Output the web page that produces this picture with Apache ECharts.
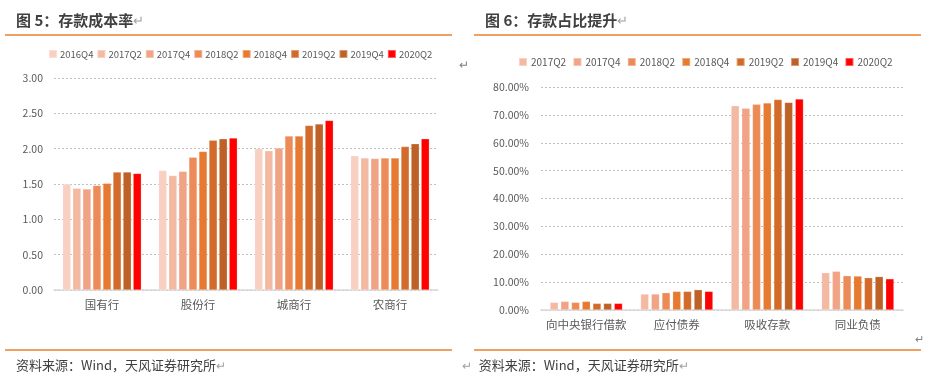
<!DOCTYPE html>
<html><head><meta charset="utf-8">
<script src="https://cdn.jsdelivr.net/npm/echarts@6/dist/echarts.min.js"></script>
<style>html,body{margin:0;padding:0;background:#fff;}#c{width:951px;height:387px;}</style>
</head><body><div id="c"></div>
<script>
// Left chart: 存款成本率
const leftCategories = ['国有行', '股份行', '城商行', '农商行'];
const leftSeriesNames = ['2016Q4', '2017Q2', '2017Q4', '2018Q2', '2018Q4', '2019Q2', '2019Q4', '2020Q2'];
const leftValues = [
  [1.50, 1.69, 2.00, 1.90],
  [1.44, 1.62, 1.97, 1.87],
  [1.43, 1.68, 2.01, 1.86],
  [1.48, 1.88, 2.18, 1.87],
  [1.51, 1.96, 2.18, 1.87],
  [1.67, 2.12, 2.33, 2.03],
  [1.67, 2.14, 2.35, 2.07],
  [1.65, 2.15, 2.40, 2.14]
];
const leftTicks = [0, 0.5, 1, 1.5, 2, 2.5, 3];

// Right chart: 存款占比提升 (%)
const rightCategories = ['向中央银行借款', '应付债券', '吸收存款', '同业负债'];
const rightSeriesNames = ['2017Q2', '2017Q4', '2018Q2', '2018Q4', '2019Q2', '2019Q4', '2020Q2'];
const rightValues = [
  [2.75, 5.74, 73.3, 13.4],
  [3.11, 5.74, 72.4, 13.9],
  [2.75, 6.22, 73.8, 12.3],
  [3.11, 6.70, 74.3, 12.2],
  [2.39, 6.70, 75.5, 11.6],
  [2.39, 7.30, 74.5, 12.0],
  [2.39, 6.70, 75.7, 11.2]
];
const rightTicks = [0, 10, 20, 30, 40, 50, 60, 70, 80];

const palette = {
  '2016Q4': '#F7D0C2', '2017Q2': '#F4B9A2', '2017Q4': '#F0A385', '2018Q2': '#EC8B57',
  '2018Q4': '#E57A30', '2019Q2': '#D26B2A', '2019Q4': '#BD6127', '2020Q2': '#FF0000'
};

const FONT = '"Noto Sans CJK SC", "Noto Sans", sans-serif';
const TXT = '#595959';
const chart = echarts.init(document.getElementById('c'), null, {renderer: 'canvas'});

const series = [];
leftSeriesNames.forEach((n, i) => {
  series.push({
    name: n, type: 'bar', xAxisIndex: 0, yAxisIndex: 0, data: leftValues[i],
    barGap: '22%', barCategoryGap: '18%',
    itemStyle: {color: palette[n], borderColor: 'rgba(255,255,255,0.35)', borderWidth: 0.6},
    emphasis: {disabled: true}
  });
});
rightSeriesNames.forEach((n, i) => {
  series.push({
    name: n + ' ', type: 'bar', xAxisIndex: 1, yAxisIndex: 1, data: rightValues[i],
    barGap: '30%', barCategoryGap: '20%',
    itemStyle: {color: palette[n], borderColor: 'rgba(255,255,255,0.35)', borderWidth: 0.6},
    emphasis: {disabled: true}
  });
});

const axisCommon = {
  axisTick: {show: false},
  axisLine: {show: true, lineStyle: {color: '#D9D9D9', width: 1.5}},
};

const option = {
  animation: false,
  textStyle: {fontFamily: FONT},
  legend: [
    {
      data: leftSeriesNames, left: 43, top: 44, width: 420, itemWidth: 8, itemHeight: 8, itemGap: 3,
      icon: 'rect', textStyle: {color: TXT, fontSize: 9.5, fontFamily: FONT, padding: [0, 0, 0, -2]}
    },
    {
      data: rightSeriesNames.map(n => n + ' '), left: 513, top: 52, width: 430, itemWidth: 8, itemHeight: 8, itemGap: 4,
      icon: 'rect', textStyle: {color: TXT, fontSize: 10, fontFamily: FONT, padding: [0, 0, 0, -1]}
    }
  ],
  grid: [
    {left: 54, right: 513, top: 78, bottom: 97, containLabel: false},
    {left: 541, right: 48, top: 87, bottom: 77, containLabel: false}
  ],
  xAxis: [
    Object.assign({}, axisCommon, {type: 'category', gridIndex: 0, data: leftCategories,
      axisLabel: {color: TXT, fontFamily: FONT, fontSize: 11.5, margin: 9, interval: 0}}),
    Object.assign({}, axisCommon, {type: 'category', gridIndex: 1, data: rightCategories,
      axisLabel: {color: TXT, fontFamily: FONT, fontSize: 11.5, margin: 9, interval: 0}})
  ],
  yAxis: [
    {type: 'value', gridIndex: 0, min: leftTicks[0], max: leftTicks[leftTicks.length - 1], interval: 0.5,
      axisLine: {show: false}, axisTick: {show: false},
      axisLabel: {color: TXT, fontFamily: FONT, fontSize: 10.5, margin: 11, formatter: v => v.toFixed(2)},
      splitLine: {lineStyle: {color: '#BFBFBF', type: [2, 2], width: 1}}},
    {type: 'value', gridIndex: 1, min: rightTicks[0], max: rightTicks[rightTicks.length - 1], interval: 10,
      axisLine: {show: false}, axisTick: {show: false},
      axisLabel: {color: TXT, fontFamily: FONT, fontSize: 10.5, margin: 12, formatter: v => v.toFixed(2) + '%'},
      splitLine: {lineStyle: {color: '#BFBFBF', type: [2, 2], width: 1}}}
  ],
  series: series,
  graphic: [
    {type: 'text', left: 16, top: 13, style: {text: '{b|图 5：存款成本率}{m|↵}',
      rich: {b: {fontSize: 15, fontWeight: 'bold', fill: '#404040', fontFamily: FONT}, m: {fontSize: 13, fill: '#A0A0A0', fontFamily: FONT}}}},
    {type: 'text', left: 485, top: 13, style: {text: '{b|图 6：存款占比提升}{m|↵}',
      rich: {b: {fontSize: 15, fontWeight: 'bold', fill: '#404040', fontFamily: FONT}, m: {fontSize: 13, fill: '#A0A0A0', fontFamily: FONT}}}},
    {type: 'line', shape: {x1: 5, y1: 35, x2: 452, y2: 35}, style: {stroke: '#E8822F', lineWidth: 1.3}},
    {type: 'line', shape: {x1: 474, y1: 35, x2: 921, y2: 35}, style: {stroke: '#E8822F', lineWidth: 1.3}},
    {type: 'line', shape: {x1: 5, y1: 350, x2: 452, y2: 350}, style: {stroke: '#E8822F', lineWidth: 1.3}},
    {type: 'line', shape: {x1: 474, y1: 350, x2: 921, y2: 350}, style: {stroke: '#E8822F', lineWidth: 1.3}},
    {type: 'text', left: 459, top: 58, style: {text: '↵', fontSize: 12, fill: '#808080', fontFamily: FONT}},
    {type: 'text', left: 915, top: 333, style: {text: '↵', fontSize: 11, fill: '#808080', fontFamily: FONT}},
    {type: 'text', left: 16, top: 359, style: {text: '{t|资料来源：Wind，天风证券研究所}{m|↵}',
      rich: {t: {fontSize: 13, fill: '#404040', fontFamily: FONT}, m: {fontSize: 12, fill: '#A0A0A0', fontFamily: FONT}}}},
    {type: 'text', left: 462, top: 359, style: {text: '{m|↵}  {t|资料来源：Wind，天风证券研究所}{m|↵}',
      rich: {t: {fontSize: 13, fill: '#404040', fontFamily: FONT}, m: {fontSize: 12, fill: '#A0A0A0', fontFamily: FONT}}}}
  ]
};
chart.setOption(option);
</script>
</body></html>
